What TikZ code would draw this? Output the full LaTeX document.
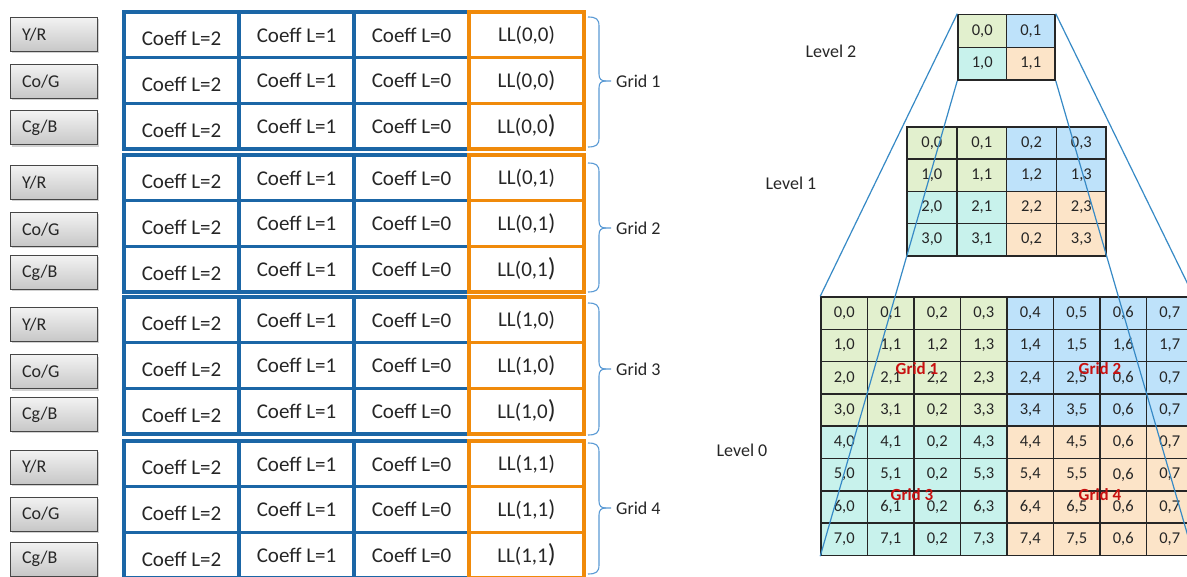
\documentclass[tikz,border=0pt]{standalone}
\usepackage{fontspec}
\setmainfont{Carlito}
\usetikzlibrary{shadows}
\definecolor{tblue}{RGB}{27,102,166}
\definecolor{torange}{RGB}{240,138,10}
\definecolor{bracec}{RGB}{91,155,213}
\definecolor{pyrc}{RGB}{55,138,198}
\definecolor{cgreen}{RGB}{226,240,206}
\definecolor{cblue}{RGB}{190,226,250}
\definecolor{cteal}{RGB}{200,242,236}
\definecolor{cpeach}{RGB}{252,228,200}
\definecolor{redlabc}{RGB}{200,16,16}
\definecolor{txt}{RGB}{38,38,38}
\newcommand\bigparen[1]{{\fontsize{#1}{#1}\selectfont)}}
\begin{document}
\begin{tikzpicture}[x=1pt,y=-1pt,
  btn/.style={draw={rgb,255:red,70;green,70;blue,70}, line width=1pt,
    top color=black!5, bottom color=black!22,
    minimum width=87pt, minimum height=34pt, text width=63pt, inner xsep=12pt, inner ysep=0pt,
    align=left, font=\fontsize{18}{18}\selectfont, text=txt,
    drop shadow={shadow xshift=1.5pt, shadow yshift=-1.8pt, opacity=0.35}},
  coeff/.style={draw=tblue, line width=3.3pt, minimum width=115pt, minimum height=45.7pt,
    inner sep=0pt, font=\fontsize{21}{21}\selectfont, text=txt},
  lowtext/.style={text height=22pt, text depth=0pt},
  llcell/.style={coeff, draw=torange},
  brace/.style={draw=bracec, line width=1.1pt},
  gridlab/.style={font=\fontsize{18}{18}\selectfont, text=txt, inner xsep=5pt, inner ysep=0pt},
  cell/.style={draw=black!85, line width=1.5pt, inner sep=0pt, font=\fontsize{16.5}{16.5}\selectfont, text=txt},
  pyr/.style={draw=pyrc, line width=1.2pt},
  redlab/.style={font=\fontsize{17}{17}\selectfont\bfseries, text=redlabc, inner sep=0pt},
  levlab/.style={font=\fontsize{18}{18}\selectfont, text=txt, inner sep=0pt}
]
\useasboundingbox (0,0) rectangle (1187,577);
\clip (0,0) rectangle (1187,577);
\fill[white] (0,0) rectangle (1187,577);

% ---- buttons
\node[btn] (b1y) at (53.5,34.5) {Y/R};
\node[btn] (b1c) at (53.5,81.5) {Co/G};
\node[btn] (b1b) at (53.5,128) {Cg/B};
\node[btn] (b2y) at (53.5,182.5) {Y/R};
\node[btn] (b2c) at (53.5,229.5) {Co/G};
\node[btn] (b2b) at (53.5,272.5) {Cg/B};
\node[btn] (b3y) at (53.5,324.5) {Y/R};
\node[btn] (b3c) at (53.5,372) {Co/G};
\node[btn] (b3b) at (53.5,414.5) {Cg/B};
\node[btn] (b4y) at (53.5,467) {Y/R};
\node[btn] (b4c) at (53.5,514) {Co/G};
\node[btn] (b4b) at (53.5,559) {Cg/B};

% ---- coefficient table
\foreach \b/\t in {1/12,2/155,3/297,4/441}{
  \foreach \r in {0,1,2}{
    \pgfmathsetmacro\yc{\t+45.7*\r+22.85}
    \node[coeff,lowtext] (c\b\r2) at (181.5,\yc) {Coeff L=2};
    \node[coeff] (c\b\r1) at (296.5,\yc) {Coeff L=1};
    \node[coeff] (c\b\r0) at (411.5,\yc) {Coeff L=0};
  }
}
\foreach \b/\t/\ll in {1/12/{0,0},2/155/{0,1},3/297/{1,0},4/441/{1,1}}{
  \node[llcell] (ll\b0) at (526.5,\t+22.85) {LL(\ll)};
  \node[llcell] (ll\b1) at (526.5,\t+68.55) {LL(\ll\bigparen{23}};
  \node[llcell] (ll\b2) at (526.5,\t+114.25) {LL(\ll\bigparen{26}};
}

% ---- braces
\foreach \g/\tp/\tip/\bt in {1/17/81/147,2/163/228/292,3/303/369/435,4/443/508/574}{
  \node[gridlab, anchor=west] (gl\g) at (611,\tip) {Grid \g};
  \draw[brace] (588,\tp) .. controls (596,\tp) and (599,\tp+2) .. (599,\tp+9) -- (599,\tip-7)
     .. controls (599,\tip-2) and (601,\tip) .. (606,\tip) -- (gl\g.west);
  \draw[brace] (606,\tip) .. controls (601,\tip) and (599,\tip+2) .. (599,\tip+7) -- (599,\bt-9)
     .. controls (599,\bt-2) and (596,\bt) .. (588,\bt);
}

% ---- level 0
\foreach \r in {0,...,7}{
  \foreach \c in {0,...,7}{
    \edef\rr{\r}
    \ifnum\r>2 \ifnum\c=2 \def\rr{0}\fi\fi
    \ifnum\r>1 \ifnum\c>5 \def\rr{0}\fi\fi
    \ifnum\r<4 \ifnum\c<4 \def\cf{cgreen}\else\def\cf{cblue}\fi
    \else \ifnum\c<4 \def\cf{cteal}\else\def\cf{cpeach}\fi\fi
    \node[cell, fill=\cf, minimum width=46.5pt, minimum height=32.3pt]
      (l0-\r-\c) at (844.25+46.5*\c, 313.15+32.3*\r) {\rr,\c};
  }
}
% ---- level 1
\foreach \r in {0,...,3}{
  \foreach \c in {0,...,3}{
    \edef\rr{\r}
    \ifnum\r=3 \ifnum\c=2 \def\rr{0}\fi\fi
    \ifnum\r<2 \ifnum\c<2 \def\cf{cgreen}\else\def\cf{cblue}\fi
    \else \ifnum\c<2 \def\cf{cteal}\else\def\cf{cpeach}\fi\fi
    \node[cell, fill=\cf, minimum width=49.8pt, minimum height=32.2pt]
      (l1-\r-\c) at (931.9+49.8*\c, 143.1+32.2*\r) {\rr,\c};
  }
}
% ---- level 2
\foreach \r/\c/\cf in {0/0/cgreen,0/1/cblue,1/0/cteal,1/1/cpeach}{
  \node[cell, fill=\cf, minimum width=48.5pt, minimum height=32.8pt]
    (l2-\r-\c) at (982.25+48.5*\c, 30.9+32.8*\r) {\r,\c};
}

% ---- pyramid lines
\draw[pyr] (l2-0-0.north west) -- (l0-0-0.north west);
\draw[pyr] (l2-1-0.south west) -- (l0-7-0.south west);
\draw[pyr] (l2-1-1.south east) -- (l0-7-7.south east);
\draw[pyr] (l2-0-1.north east) -- (l0-0-7.north east);

% ---- labels
\node[redlab] (rg1) at (917,369) {Grid 1};
\node[redlab] (rg2) at (1100,369) {Grid 2};
\node[redlab] (rg3) at (912,495) {Grid 3};
\node[redlab] (rg4) at (1100,495) {Grid 4};
\node[levlab] (lev2) at (831,51) {Level 2};
\node[levlab] (lev1) at (791,183) {Level 1};
\node[levlab] (lev0) at (742,450) {Level 0};
\end{tikzpicture}
\end{document}
